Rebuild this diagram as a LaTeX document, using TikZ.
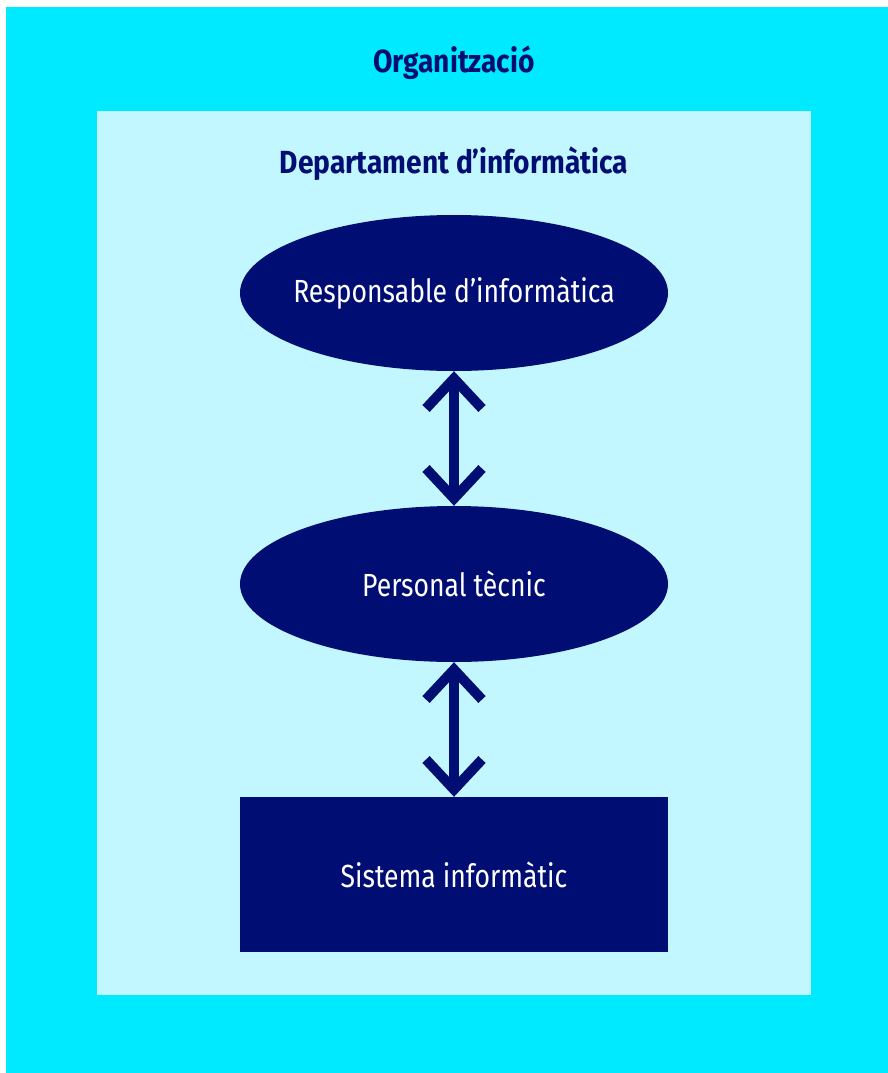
\documentclass[tikz,border=0pt]{standalone}
\usepackage{fontspec}
\setmainfont[FakeStretch=0.83,BoldFeatures={FakeStretch=0.88}]{Fira Sans}
\usetikzlibrary{arrows.meta,shapes.geometric}
\definecolor{orgcyan}{RGB}{0,234,255}
\definecolor{deptcyan}{RGB}{194,247,255}
\definecolor{navy}{RGB}{0,14,115}
\tikzset{
  title/.style={text=navy,font=\fontsize{32}{34}\selectfont\bfseries,inner sep=0pt},
  unit/.style={fill=navy,text=white,font=\fontsize{32}{34}\selectfont,inner sep=0pt},
  oval/.style={unit,ellipse,inner xsep=-50pt,minimum width=428pt,minimum height=156pt},
  link/.style={navy,line width=10pt,
    {Straight Barb[length=30pt,width=56pt,line width=10pt]}-{Straight Barb[length=30pt,width=56pt,line width=10pt]}}
}
\begin{document}
\begin{tikzpicture}[x=1pt,y=-1pt]
  \useasboundingbox (0,0) rectangle (888,1073);
  \fill[orgcyan] (6,7) rectangle (888,1073);    % organitzacio
  \fill[deptcyan] (97,111) rectangle (811,995); % departament
  \node[title] (org) at (454,63) {Organització};
  \node[title] (dept) at (454,164) {Departament d’informàtica};
  \node[oval] (resp) at (454,293) {Responsable d’informàtica};
  \node[oval] (tec) at (454,584) {Personal tècnic};
  \node[unit,rectangle,minimum width=428pt,minimum height=155pt] (sis) at (454,874.5) {Sistema informàtic};
  \draw[link] (resp.south) -- (tec.north);
  \draw[link] (tec.south) -- (sis.north);
\end{tikzpicture}
\end{document}
